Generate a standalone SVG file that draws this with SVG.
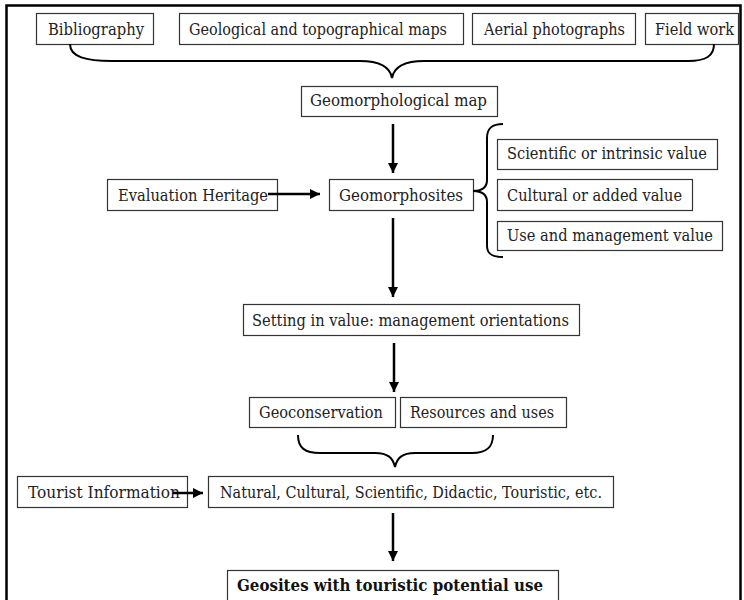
<svg xmlns="http://www.w3.org/2000/svg" width="744" height="600" viewBox="0 0 744 600">
<defs>
<marker id="ah" viewBox="0 0 10 10" refX="10" refY="5" markerWidth="4" markerHeight="4" markerUnits="strokeWidth" orient="auto">
<path d="M0,0 L10,5 L0,10 Z" fill="#000"/>
</marker>
<style>
.box{fill:#fff;stroke:#333;stroke-width:1.2}
.t{font-family:"DejaVu Serif","Liberation Serif",serif;font-size:16px;fill:#222}
.b{font-family:"DejaVu Serif","Liberation Serif",serif;font-size:16px;font-weight:bold;fill:#111}
.arr{stroke:#000;stroke-width:2.5;fill:none;marker-end:url(#ah)}
.br{stroke:#000;stroke-width:2;fill:none}
</style>
</defs>
<rect x="6.5" y="5.5" width="734" height="640" fill="#fff" stroke="#000" stroke-width="2.5"/>
<g id="bibliography"><rect class="box" x="36.5" y="13.5" width="117" height="31"/><text class="t" x="48" y="34.5" textLength="96" lengthAdjust="spacingAndGlyphs">Bibliography</text></g>
<g id="maps"><rect class="box" x="179.5" y="13.5" width="284" height="31"/><text class="t" x="189" y="34.5" textLength="258" lengthAdjust="spacingAndGlyphs">Geological and topographical maps</text></g>
<g id="aerial"><rect class="box" x="472.5" y="13.5" width="163" height="31"/><text class="t" x="484" y="34.5" textLength="141" lengthAdjust="spacingAndGlyphs">Aerial photographs</text></g>
<g id="fieldwork"><rect class="box" x="645.5" y="13.5" width="93" height="31"/><text class="t" x="655" y="34.5" textLength="79" lengthAdjust="spacingAndGlyphs">Field work</text></g>
<g id="geomap"><rect class="box" x="301.5" y="86.5" width="196" height="30"/><text class="t" x="310" y="106" textLength="177" lengthAdjust="spacingAndGlyphs">Geomorphological map</text></g>
<g id="evaluation"><rect class="box" x="107.5" y="179.5" width="170" height="31"/><text class="t" x="118" y="200.5" textLength="150" lengthAdjust="spacingAndGlyphs">Evaluation Heritage</text></g>
<g id="geomorphosites"><rect class="box" x="329.5" y="179.5" width="144" height="31"/><text class="t" x="339" y="200.5" textLength="124" lengthAdjust="spacingAndGlyphs">Geomorphosites</text></g>
<g id="scientific"><rect class="box" x="497.5" y="139.5" width="220" height="30"/><text class="t" x="507" y="159" textLength="200" lengthAdjust="spacingAndGlyphs">Scientific or intrinsic value</text></g>
<g id="cultural"><rect class="box" x="497.5" y="179.5" width="195" height="31"/><text class="t" x="507" y="200.5" textLength="175" lengthAdjust="spacingAndGlyphs">Cultural or added value</text></g>
<g id="usemgmt"><rect class="box" x="497.5" y="221.5" width="225" height="29"/><text class="t" x="507" y="240.5" textLength="206" lengthAdjust="spacingAndGlyphs">Use and management value</text></g>
<g id="setting"><rect class="box" x="243.5" y="304.5" width="336" height="31"/><text class="t" x="252" y="325.5" textLength="317" lengthAdjust="spacingAndGlyphs">Setting in value: management orientations</text></g>
<g id="geoconservation"><rect class="box" x="249.5" y="397.5" width="146" height="30"/><text class="t" x="259" y="417.5" textLength="124" lengthAdjust="spacingAndGlyphs">Geoconservation</text></g>
<g id="resources"><rect class="box" x="400.5" y="397.5" width="166" height="30"/><text class="t" x="410" y="417.5" textLength="144" lengthAdjust="spacingAndGlyphs">Resources and uses</text></g>
<g id="tourist"><rect class="box" x="17.5" y="476.5" width="170" height="31"/><text class="t" x="28" y="497.5" textLength="152" lengthAdjust="spacingAndGlyphs">Tourist Information</text></g>
<g id="natural"><rect class="box" x="208.5" y="476.5" width="405" height="31"/><text class="t" x="220" y="497.5" textLength="382" lengthAdjust="spacingAndGlyphs">Natural, Cultural, Scientific, Didactic, Touristic, etc.</text></g>
<g id="geosites"><rect class="box" x="227.5" y="570.5" width="331" height="40"/><text class="b" x="237" y="591" textLength="306" lengthAdjust="spacingAndGlyphs">Geosites with touristic potential use</text></g>
<g id="connectors">
<path class="br" d="M70,44 C70,57 86,61 112,61 L360,61 C381,61 390,67 392,78 C394,67 403,61 424,61 L688,61 C706,61 714,56 714,44"/>
<path class="br" d="M503,124 C492,124 487,128 487,138 L487,180 C487,187 482,191 473,191 C482,191 487,195 487,202 L487,246 C487,254 492,257 503,257"/>
<path class="br" d="M298,435 C298,448 305,453 320,453 L375,453 C388,453 393,458 395,467 C397,458 402,453 415,453 L472,453 C486,453 493,448 493,435"/>
<line class="arr" x1="393" y1="124" x2="393" y2="173"/>
<line class="arr" x1="268" y1="194" x2="320" y2="194"/>
<line class="arr" x1="393" y1="218" x2="393" y2="297"/>
<line class="arr" x1="394" y1="343" x2="394" y2="392"/>
<line class="arr" x1="173" y1="493" x2="203" y2="493"/>
<line class="arr" x1="393" y1="513" x2="393" y2="561"/>
</g>
</svg>
